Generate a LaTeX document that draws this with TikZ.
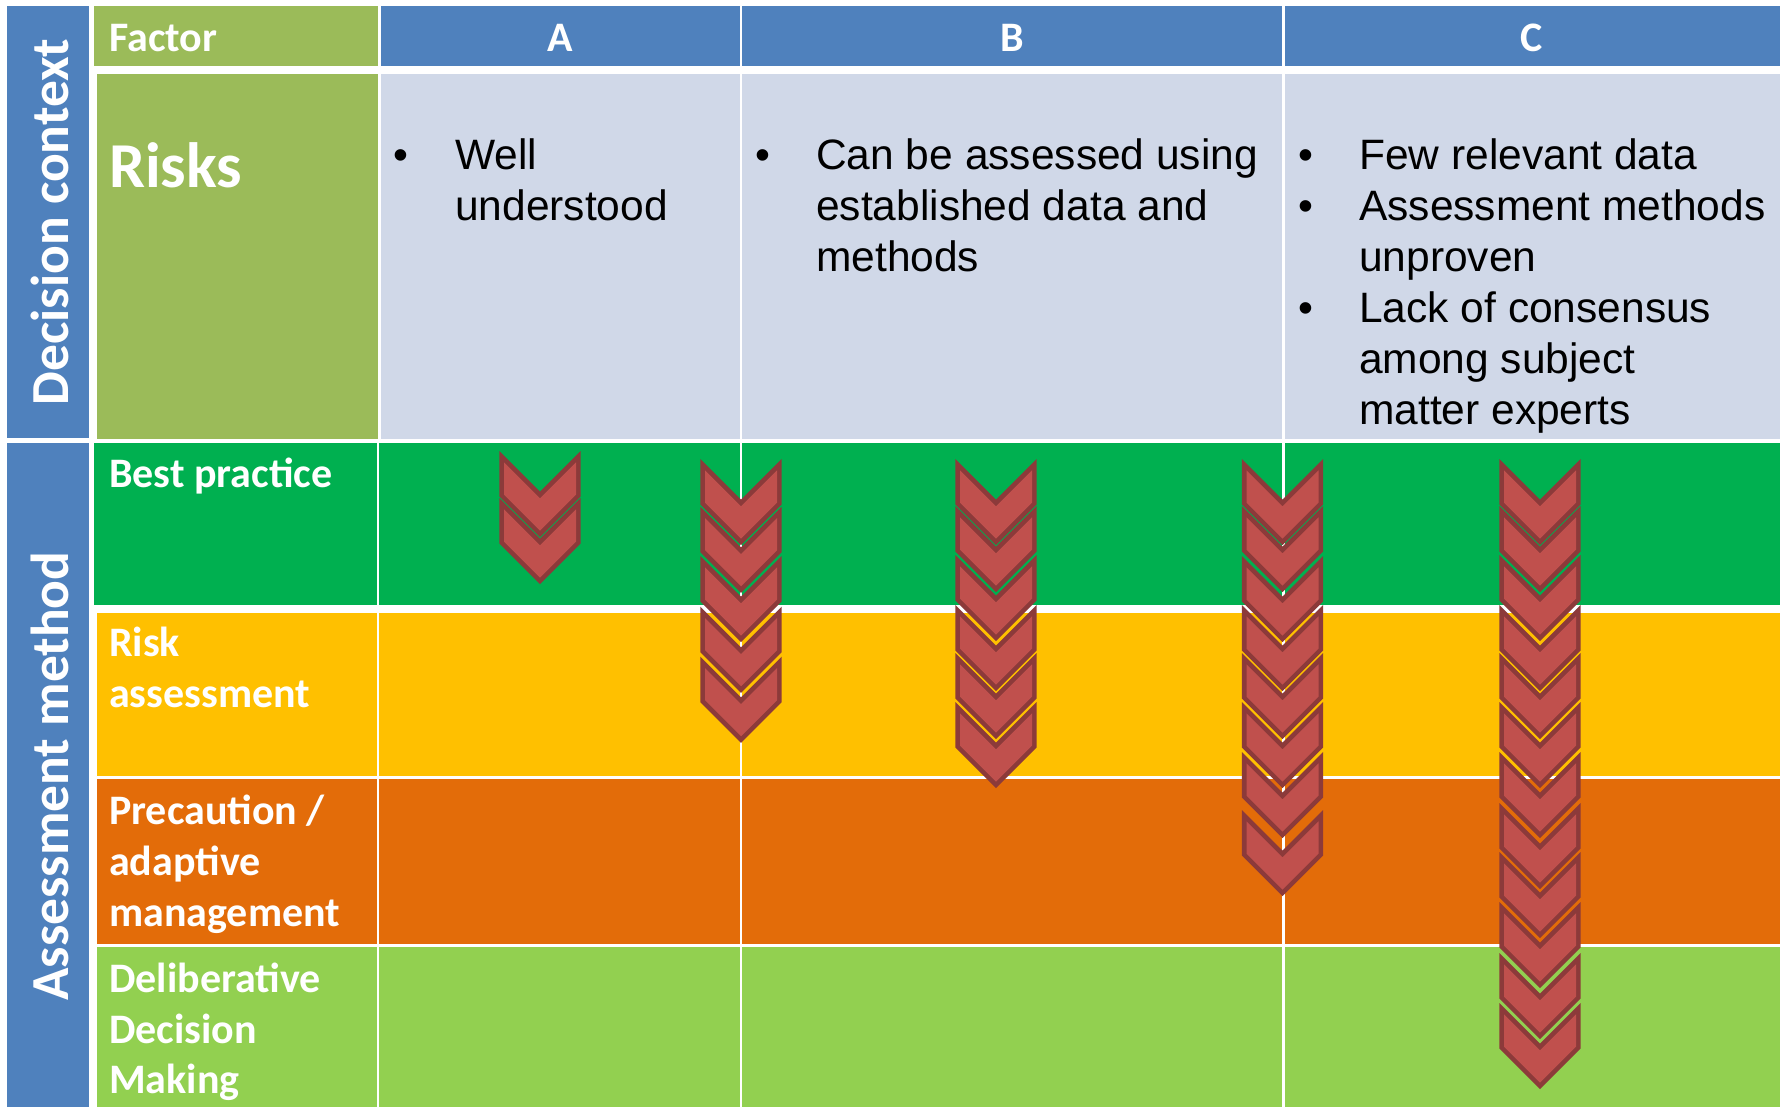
\documentclass[tikz,border=0pt]{standalone}
\usepackage{fontspec}
\setmainfont{Liberation Sans}
\newfontfamily\calfont{Carlito}
\definecolor{hblue}{HTML}{4F81BD}
\definecolor{fgreen}{HTML}{9BBB59}
\definecolor{lgray}{HTML}{D0D8E8}
\definecolor{bpgreen}{HTML}{00B050}
\definecolor{raamber}{HTML}{FFC000}
\definecolor{prorange}{HTML}{E36C09}
\definecolor{ddgreen}{HTML}{92D050}
\definecolor{chevfill}{HTML}{C0504D}
\definecolor{chevedge}{HTML}{8C3A3A}
\begin{document}
\begin{tikzpicture}[x=1pt,y=-1pt,
  lbl/.style={anchor=base west, inner sep=0, text=white, font=\calfont\bfseries\fontsize{42}{51}\selectfont},
  hdr/.style={anchor=base, inner sep=0, text=white, font=\calfont\bfseries\fontsize{42}{51}\selectfont},
  side/.style={anchor=base, inner sep=0, rotate=90, text=white, font=\calfont\bfseries\fontsize{53.5}{60}\selectfont},
  body/.style={anchor=base west, inner sep=0, text=black, font=\fontsize{42.5}{51}\selectfont},
  chev/.pic={
    \fill[chevedge] (-40.7,0) -- (0,40.7) -- (40.7,0) -- (40.7,45.5) -- (0,86.2) -- (-40.7,45.5) -- cycle;
    \fill[chevfill] (-36,11.35) -- (0,47.35) -- (36,11.35) -- (36,43.55) -- (0,79.55) -- (-36,43.55) -- cycle;
  }]
\fill[white] (0,0) rectangle (1782,1107);
\useasboundingbox (0,0) rectangle (1782,1107);
% left bars
\fill[hblue] (7,6) rectangle (89,438);
\fill[hblue] (7,443) rectangle (89,1107);
% header row
\fill[fgreen] (94,6) rectangle (378,66);
\fill[hblue] (380.5,6) rectangle (739.5,66);
\fill[hblue] (742,6) rectangle (1282.3,66);
\fill[hblue] (1284.7,6) rectangle (1780,66);
% risks row
\fill[fgreen] (97,74) rectangle (378,439.3);
\fill[lgray] (380.5,74) rectangle (739.5,439.3);
\fill[lgray] (742,74) rectangle (1282.3,439.3);
\fill[lgray] (1284.7,74) rectangle (1780,439.3);
% best practice
\fill[bpgreen] (94,442.7) rectangle (376.7,605);
\fill[bpgreen] (379.3,442.7) rectangle (739.5,605);
\fill[bpgreen] (742,442.7) rectangle (1282.3,605);
\fill[bpgreen] (1284.7,442.7) rectangle (1780,605);
% risk assessment
\fill[raamber] (97,613) rectangle (376.7,776);
\fill[raamber] (379.3,613) rectangle (739.5,776);
\fill[raamber] (742,613) rectangle (1282.3,776);
\fill[raamber] (1284.7,613) rectangle (1780,776);
% precaution
\fill[prorange] (97,779) rectangle (376.7,944);
\fill[prorange] (379.3,779) rectangle (739.5,944);
\fill[prorange] (742,779) rectangle (1282.3,944);
\fill[prorange] (1284.7,779) rectangle (1780,944);
% deliberative
\fill[ddgreen] (97,947) rectangle (376.7,1107);
\fill[ddgreen] (379.3,947) rectangle (739.5,1107);
\fill[ddgreen] (742,947) rectangle (1282.3,1107);
\fill[ddgreen] (1284.7,947) rectangle (1780,1107);
% side labels
\node[side] (dc) at (68.5,222) {Decision context};
\node[side] (am) at (68.5,776) {Assessment method};
% header labels
\node[lbl] (factor) at (109,52) {Factor};
\node[hdr] (ha) at (560,52) {A};
\node[hdr] (hb) at (1012,52) {B};
\node[hdr] (hc) at (1532,52) {C};
\node[lbl, font=\calfont\bfseries\fontsize{64}{70}\selectfont] (risks) at (109,188) {Risks};
% row labels
\node[lbl] (bp) at (109,487) {Best practice};
\node[lbl] (ra1) at (109,656) {Risk};
\node[lbl] (ra2) at (109,707) {assessment};
\node[lbl] (pr1) at (109,824) {Precaution /};
\node[lbl] (pr2) at (109,875) {adaptive};
\node[lbl] (pr3) at (109,926) {management};
\node[lbl] (dd1) at (109,992) {Deliberative};
\node[lbl] (dd2) at (109,1043) {Decision};
\node[lbl] (dd3) at (109,1093) {Making};
% body text
\node[body] (ba1) at (393,169.5) {•};
\node[body] (ta1) at (455,169.5) {Well};
\node[body] (ta2) at (455,220.5) {understood};
\node[body] (bb1) at (755,169.5) {•};
\node[body] (tb1) at (816,169.5) {Can be assessed using};
\node[body] (tb2) at (816,220.5) {established data and};
\node[body] (tb3) at (816,271.5) {methods};
\node[body] (bc1) at (1298,169.5) {•};
\node[body] (tc1) at (1359,169.5) {Few relevant data};
\node[body] (bc2) at (1298,220.5) {•};
\node[body] (tc2) at (1359,220.5) {Assessment methods};
\node[body] (tc3) at (1359,271.5) {unproven};
\node[body] (bc3) at (1298,322.5) {•};
\node[body] (tc4) at (1359,322.5) {Lack of consensus};
\node[body] (tc5) at (1359,373.5) {among subject};
\node[body] (tc6) at (1359,424.5) {matter experts};
% chevrons
\foreach \t in {451,498} \pic at (540,\t) {chev};
\foreach \t in {459,506.7,556,606.7,656.7} \pic at (741,\t) {chev};
\foreach \t in {459,506,555,605,653,702} \pic at (996,\t) {chev};
\foreach \t in {459,506,556,605,653,702,752,810} \pic at (1282.5,\t) {chev};
\foreach \t in {459,506,555,605,653,702,752,803,852,902,953,1003} \pic at (1540,\t) {chev};
\end{tikzpicture}
\end{document}
